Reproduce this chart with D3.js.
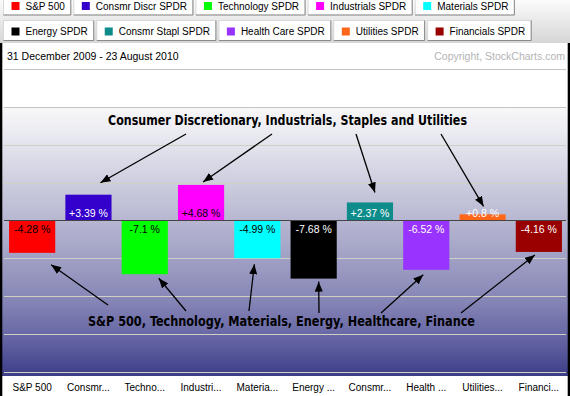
<!DOCTYPE html>
<html>
<head>
<meta charset="utf-8">
<script src="https://cdn.jsdelivr.net/npm/d3@7"></script>
<style>
  html, body { margin: 0; padding: 0; background: #fff; }
  svg { display: block; }
  text { font-family: Arial, 'Liberation Sans', sans-serif; }
</style>
</head>
<body>
<div id="chart"></div>
<script>
// Sector names (legend) and their short tick labels
const sectors = ['S&P 500', 'Consmr Discr SPDR', 'Technology SPDR', 'Industrials SPDR', 'Materials SPDR',
                 'Energy SPDR', 'Consmr Stapl SPDR', 'Health Care SPDR', 'Utilities SPDR', 'Financials SPDR'];
const tickLabels = ['S&P 500', 'Consmr...', 'Techno...', 'Industri...', 'Materia...',
                    'Energy ...', 'Consmr...', 'Health ...', 'Utilities...', 'Financi...'];
// % change 31 Dec 2009 - 23 Aug 2010
const changes = [-4.28, 3.39, -7.1, 4.68, -4.99, -7.68, 2.37, -6.52, 0.8, -4.16];
const barColors = ['#ff0000', '#3300cc', '#00ff00', '#ff00ff', '#00ffff',
                   '#000000', '#0e8c8c', '#9933ff', '#ff6619', '#990000'];
const labelColors = ['#000', '#fff', '#000', '#000', '#000', '#fff', '#fff', '#fff', '#fff', '#fff'];

const dateRange = '31 December 2009 - 23 August 2010';
const copyright = 'Copyright, StockCharts.com';
const noteTop = 'Consumer Discretionary, Industrials, Staples and Utilities';
const noteBottom = 'S&P 500, Technology, Materials, Energy, Healthcare, Finance';

// arrows: start point near the note, end anchored to a bar (offset from bar centre / bar end)
const topArrows = [
    { idx: 1, from: [186, 134], dx: 12, dy: -12 },
    { idx: 3, from: [272, 134], dx: 2, dy: -3 },
    { idx: 6, from: [356, 134], dx: 5, dy: -10 },
    { idx: 8, from: [441, 134], dx: 1, dy: -8 }
];
const bottomArrows = [
    { idx: 0, from: [108, 305], dx: 19, dy: 12 },
    { idx: 2, from: [186, 311], dx: 14, dy: 4 },
    { idx: 4, from: [249, 311], dx: -3, dy: 6 },
    { idx: 5, from: [319, 313], dx: 5, dy: 3 },
    { idx: 7, from: [381, 313], dx: -3, dy: 5 },
    { idx: 9, from: [461, 313], dx: -4, dy: 3 }
];

const width = 570, height = 396;

const svg = d3.select('#chart').append('svg')
    .attr('width', width)
    .attr('height', height);

const defs = svg.append('defs');

// legend strip gradient
const lg = defs.append('linearGradient').attr('id', 'legendBg')
    .attr('x1', 0).attr('y1', 0).attr('x2', 0).attr('y2', 1);
lg.append('stop').attr('offset', 0).attr('stop-color', '#fbfbfb');
lg.append('stop').attr('offset', 1).attr('stop-color', '#d6d6d6');

// plot background gradient (white -> dark blue)
const pg = defs.append('linearGradient').attr('id', 'plotBg')
    .attr('x1', 0).attr('y1', 0).attr('x2', 0).attr('y2', 1);
[[0, '#f8f8fa'], [0.15, '#e2e2ec'], [0.35, '#c2c2d8'], [0.55, '#a2a2c6'],
 [0.72, '#8585b6'], [0.87, '#6262a2'], [1, '#3c3c88']].forEach(s => {
    pg.append('stop').attr('offset', s[0]).attr('stop-color', s[1]);
});

defs.append('marker')
    .attr('id', 'arrowHead')
    .attr('viewBox', '0 0 10 8')
    .attr('refX', 10).attr('refY', 4)
    .attr('markerWidth', 10).attr('markerHeight', 8)
    .attr('markerUnits', 'userSpaceOnUse')
    .attr('orient', 'auto')
    .append('path')
    .attr('d', 'M0,0 L10,4 L0,8 Z')
    .attr('fill', '#000');

// Scales
const x = d3.scaleBand()
    .domain(sectors)
    .range([4, 567])
    .paddingInner(0.18)
    .paddingOuter(0.09);

const y = d3.scaleLinear()
    .domain([-20, 20])
    .range([372, 68.8]);

// ---- legend strip ----
svg.append('rect')
    .attr('x', 0).attr('y', 0)
    .attr('width', width).attr('height', 43)
    .attr('fill', 'url(#legendBg)');

const rows = [sectors.slice(0, 5), sectors.slice(5)];
const rowTop = [-5, 20.5];
rows.forEach((row, r) => {
    let bx = 3.5;
    row.forEach(name => {
        const i = sectors.indexOf(name);
        const g = svg.append('g').attr('transform', `translate(${bx},${rowTop[r]})`);
        const btn = g.append('rect')
            .attr('width', 10).attr('height', 20)
            .attr('fill', '#fff')
            .attr('stroke', '#d8d8d8');
        const t = g.append('text')
            .attr('x', 22).attr('y', 14.5)
            .style('font-size', '10px')
            .attr('fill', '#000')
            .text(name);
        const w = t.node().getComputedTextLength() + 28;
        btn.attr('width', w);
        // darker bottom/right edge
        g.append('path')
            .attr('d', `M${w},0 V20 H0`)
            .attr('fill', 'none')
            .attr('stroke', '#8a8a8a');
        g.append('rect')
            .attr('x', 8).attr('y', 7)
            .attr('width', 8).attr('height', 8)
            .attr('fill', barColors[i]);
        bx += w + 3;
    });
});

// ---- header under legend ----
svg.append('text')
    .attr('x', 7).attr('y', 60)
    .style('font-size', '10.5px')
    .attr('fill', '#000')
    .text(dateRange);

svg.append('text')
    .attr('x', 565).attr('y', 60)
    .attr('text-anchor', 'end')
    .style('font-size', '10.5px')
    .attr('fill', '#b4b4b4')
    .text(copyright);

// plot background
svg.append('rect')
    .attr('x', 2).attr('y', y(15) + 0.5)
    .attr('width', width - 4).attr('height', 376 - y(15))
    .attr('fill', 'url(#plotBg)');

// gridlines
const gridVals = y.ticks(8).filter(v => v !== 0);
svg.append('g').selectAll('line')
    .data(gridVals)
    .enter().append('line')
    .attr('x1', 4).attr('x2', 566)
    .attr('y1', d => Math.round(y(d)) + 0.5)
    .attr('y2', d => Math.round(y(d)) + 0.5)
    .attr('stroke', d => d >= 15 ? '#c4c4c4' : '#cfcfc4')
    .attr('stroke-width', 1);

// bars
svg.append('g').selectAll('rect')
    .data(changes)
    .enter().append('rect')
    .attr('x', (d, i) => x(sectors[i]))
    .attr('width', x.bandwidth())
    .attr('y', d => y(Math.max(0, d)))
    .attr('height', d => Math.abs(y(d) - y(0)))
    .attr('fill', (d, i) => barColors[i]);

// zero line
svg.append('line')
    .attr('x1', 4).attr('x2', 566)
    .attr('y1', Math.round(y(0)) + 0.5).attr('y2', Math.round(y(0)) + 0.5)
    .attr('stroke', '#444')
    .attr('stroke-width', 1.2);

// value labels
svg.append('g').selectAll('text')
    .data(changes)
    .enter().append('text')
    .attr('x', (d, i) => x(sectors[i]) + x.bandwidth() / 2)
    .attr('y', d => d >= 0 ? y(0) - 3 : y(0) + 13)
    .attr('text-anchor', 'middle')
    .style('font-size', '10.5px')
    .attr('fill', (d, i) => labelColors[i])
    .text(d => (d > 0 ? '+' : '') + d + ' %');

// x axis tick labels
svg.append('rect')
    .attr('x', 2).attr('y', 376)
    .attr('width', width - 4).attr('height', 20)
    .attr('fill', '#fff');

const xAxis = d3.axisBottom(x)
    .tickSize(0)
    .tickFormat((d, i) => tickLabels[i]);
const axisG = svg.append('g')
    .attr('transform', 'translate(0,378)')
    .call(xAxis);
axisG.select('.domain').remove();
axisG.selectAll('text')
    .style('font-size', '10px')
    .style('font-family', 'Arial, "Liberation Sans", sans-serif')
    .attr('fill', '#000')
    .attr('dy', '0.95em');

// annotations
function drawArrows(list) {
    svg.append('g').selectAll('line')
        .data(list)
        .enter().append('line')
        .attr('x1', d => d.from[0])
        .attr('y1', d => d.from[1])
        .attr('x2', d => x(sectors[d.idx]) + x.bandwidth() / 2 + d.dx)
        .attr('y2', d => y(changes[d.idx]) + d.dy)
        .attr('stroke', '#000')
        .attr('stroke-width', 1.3)
        .attr('marker-end', 'url(#arrowHead)');
}
drawArrows(topArrows);
drawArrows(bottomArrows);

const noteFont = "'Liberation Sans Narrow', 'DejaVu Sans Condensed', Arial, sans-serif";
svg.append('text')
    .attr('x', 108).attr('y', 125)
    .attr('textLength', 359)
    .attr('lengthAdjust', 'spacingAndGlyphs')
    .style('font-family', noteFont)
    .style('font-weight', 'bold')
    .style('font-size', '13.5px')
    .attr('fill', '#000')
    .text(noteTop);

svg.append('text')
    .attr('x', 88).attr('y', 326)
    .attr('textLength', 387)
    .attr('lengthAdjust', 'spacingAndGlyphs')
    .style('font-family', noteFont)
    .style('font-weight', 'bold')
    .style('font-size', '13.5px')
    .attr('fill', '#000')
    .text(noteBottom);

// outer black frame sides
svg.append('rect').attr('x', 0).attr('y', 43).attr('width', 2.3).attr('height', height - 43).attr('fill', '#000');
svg.append('rect').attr('x', width - 2.3).attr('y', 43).attr('width', 2.3).attr('height', height - 43).attr('fill', '#000');
</script>
</body>
</html>
